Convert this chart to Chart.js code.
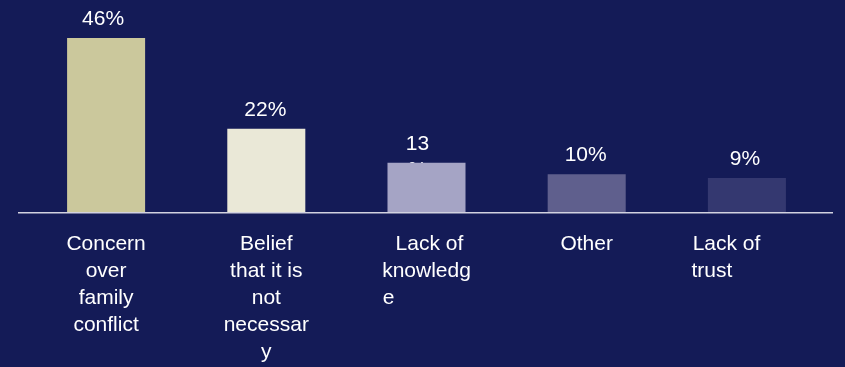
<!DOCTYPE html>
<html>
<head>
<meta charset="utf-8">
<script src="https://cdn.jsdelivr.net/npm/chart.js@4.4.0/dist/chart.umd.min.js"></script>
<style>
  html, body { margin: 0; padding: 0; background: #141b57; }
  #chart { display: block; background: #141b57; }
</style>
</head>
<body>
<canvas id="chart" width="845" height="367"></canvas>
<script>
// category names, wrapped the way the original slide wraps them
const categories = [
  ['Concern', 'over', 'family', 'conflict'],
  ['Belief', 'that it is', 'not', 'necessar', 'y'],
  [' Lack of', 'knowledg', 'e             '],
  ['Other'],
  ['Lack of       ', 'trust            ']
];
const shares = [46, 22, 13, 10, 9];
const valueLabels = ['46%', '22%', ['13', '%'], '10%', '9%'];
const barColors = ['#cbc89c', '#eae8d7', '#a5a4c5', '#5f5f8d', '#343870'];

const FONT = '"Liberation Sans", Arial, Helvetica, sans-serif';
const labelShift = [-3, -1, -9, -1, -2];

const barValueLabels = {
  id: 'barValueLabels',
  // drawn before the bars so the wrapped "%" of 13 hides behind its bar
  beforeDatasetsDraw(chart) {
    const ctx = chart.ctx;
    const meta = chart.getDatasetMeta(0);
    ctx.save();
    ctx.font = '21px ' + FONT;
    ctx.fillStyle = '#ffffff';
    ctx.textAlign = 'center';
    ctx.textBaseline = 'alphabetic';
    meta.data.forEach((bar, i) => {
      const lines = [].concat(valueLabels[i]);
      lines.forEach((line, j) => {
        ctx.fillText(line, bar.x + labelShift[i], bar.y - 13 + j * 26);
      });
    });
    ctx.restore();
  },
  afterDatasetsDraw(chart) {
    const ctx = chart.ctx;
    const area = chart.chartArea;
    ctx.save();
    ctx.strokeStyle = '#d2d2e0';
    ctx.lineWidth = 1.5;
    ctx.beginPath();
    ctx.moveTo(area.left - 8, area.bottom + 0.75);
    ctx.lineTo(area.right + 6, area.bottom + 0.75);
    ctx.stroke();
    ctx.restore();
  }
};

const chart = new Chart(document.getElementById('chart'), {
  type: 'bar',
  data: {
    labels: categories,
    datasets: [{
      data: shares,
      backgroundColor: barColors,
      borderWidth: 0,
      barPercentage: 0.487,
      categoryPercentage: 1.0
    }]
  },
  options: {
    responsive: false,
    animation: false,
    layout: { padding: { left: 26, right: 18, top: 23, bottom: 0 } },
    scales: {
      x: {
        grid: { display: false, drawTicks: false },
        border: { display: false },
        ticks: {
          color: '#ffffff',
          font: { family: FONT, size: 21, lineHeight: 27 / 21 },
          padding: 19,
          maxRotation: 0,
          minRotation: 0,
          autoSkip: false
        },
        afterFit(scale) { scale.height = 155; }
      },
      y: {
        display: false,
        min: 0,
        max: 50
      }
    },
    plugins: {
      legend: { display: false },
      tooltip: { enabled: false }
    }
  },
  plugins: [barValueLabels]
});
</script>
</body>
</html>
